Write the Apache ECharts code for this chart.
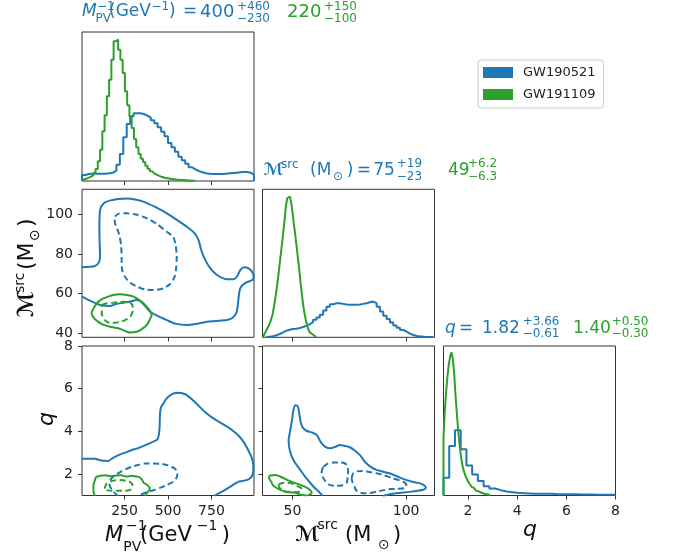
<!DOCTYPE html>
<html>
<head>
<meta charset="utf-8">
<script src="https://cdn.jsdelivr.net/npm/echarts@6/dist/echarts.min.js"></script>
<style>
  html, body { margin: 0; background: #fff; }
  #main { width: 680px; height: 552px; }
</style>
</head>
<body>
<div id="main"></div>
<script>
const FONT = 'DejaVu Sans'
const BLUE = '#1f77b4'
const GREEN = '#2ca02c'

// axis ranges
const mpvRange = [5, 995]
const mcRangeX = [36.8, 112.5]
const mcRangeY = [38, 112.6]
const qRange = [1, 8]
const histMax = 447

// tick values
const mpvTicks = [250, 500, 750]
const mcTicksX = [50, 100]
const mcTicksY = [40, 60, 80, 100]
const qTicks = [2, 4, 6, 8]

// 1D histograms (bin start, bin width, counts in arbitrary units)
const mpvBlueStart = 5, mpvBlueWidth = 19.8
const mpvBlueCounts = [18, 21, 22, 22, 22, 22, 22, 23, 25, 31, 49, 81, 131, 171, 194, 203, 203, 201, 196, 190,
  182, 173, 161, 148, 134, 114, 101, 88, 73, 62, 52, 41, 35, 30, 26, 23, 22, 21, 21, 21,
  21, 22, 23, 24, 25, 26, 27, 27, 25, 19]
const mpvGreenStart = 5, mpvGreenWidth = 13
const mpvGreenCounts = [5, 7, 10, 13, 17, 24, 36, 59, 94, 149, 197, 254, 304, 364, 419, 424, 394, 364, 324, 269,
  227, 194, 159, 126, 101, 81, 67, 57, 46, 37, 29, 23, 19, 16, 13, 11, 9, 8, 7, 6,
  5, 4, 4, 3, 3, 2, 2, 1, 1, 1]

const mcBlueStart = 38.5, mcBlueWidth = 1.47
const mcBlueCounts = [2, 3, 6, 10, 15, 20, 23, 25, 26, 28, 31, 35, 40, 46, 53, 60, 68, 81, 92, 100,
  103, 103, 101, 99, 98, 98, 98, 99, 101, 103, 106, 108, 103, 92, 78, 65, 55, 45, 36, 29,
  22, 17, 11, 7, 4, 3, 2, 1, 1, 1]
const mcGreenStart = 37.1, mcGreenWidth = 0.586
const mcGreenCounts = [5, 11, 18, 26, 34, 43, 55, 68, 90, 115, 143, 173, 208, 243, 278, 313, 350, 393, 420, 425,
  422, 408, 378, 343, 313, 278, 243, 208, 168, 133, 98, 73, 53, 36, 23, 15, 9, 5, 3, 1]

const qBlueStart = 1, qBlueWidth = 7 / 30
const qBlueCounts = [53, 148, 195, 138, 90, 63, 43, 28, 21, 16, 12, 10, 8, 7, 6, 5, 5, 5, 5, 4,
  4, 4, 4, 3, 3, 3, 2, 2, 2, 2]
const qGreenStart = 1, qGreenWidth = 0.0545
const qGreenCounts = [175, 255, 312, 358, 393, 416, 428, 408, 363, 298, 243, 193, 153, 118, 93, 76, 63, 53, 45, 38,
  32, 26, 22, 18, 15, 13, 11, 9, 8, 6, 5, 4, 3, 2, 1]

// 2D contours (solid = outer level, dashed = inner level)
const mpvMcBlueOuter = [[5, 73.3], [80, 73.9], [103, 75.9], [109, 78.6], [106, 87.0], [105, 92.1], [109, 102.2], [132, 105.7],
  [166, 106.9], [213, 107.7], [263, 108.0], [311, 107.5], [358, 106.4], [426, 103.7], [493, 100.5], [553, 97.1],
  [609, 93.7], [651, 90.6], [676, 87.0], [691, 82.0], [714, 77.0], [743, 72.9], [782, 69.4], [830, 67.4],
  [877, 67.2], [899, 68.9], [916, 71.9], [939, 73.3], [964, 72.7], [985, 70.9], [993, 68.4], [985, 66.9],
  [945, 65.4], [916, 62.8], [907, 58.5], [902, 54.3], [893, 50.2], [870, 47.7], [839, 46.7], [772, 46.2],
  [724, 45.8], [657, 44.7], [609, 44.2], [541, 44.9], [493, 46.7], [443, 48.7], [397, 50.9], [368, 53.8],
  [339, 56.3], [320, 56.8], [282, 56.0], [243, 55.4], [201, 54.8], [166, 53.8], [109, 54.3], [63, 56.0], [5, 58.5]]
const mpvMcBlueInner = [[195, 98.8], [213, 100.2], [263, 100.5], [316, 99.9], [378, 98.0], [437, 95.1], [493, 91.2],
  [530, 88.6], [544, 84.5], [550, 78.6], [547, 72.9], [538, 68.5], [512, 64.9], [472, 62.6], [416, 61.8],
  [368, 62.1], [328, 63.3], [282, 65.5], [253, 68.4], [236, 71.9], [233, 78.0], [230, 84.5], [218, 90.1],
  [198, 94.6], [192, 97.6]]
const mpvMcGreenOuter = [[66, 51.7], [90, 55.1], [115, 57.0], [147, 58.2], [184, 59.3], [224, 59.7], [264, 59.3],
  [301, 58.5], [339, 56.5], [368, 54.3], [397, 51.2], [406, 49.2], [394, 46.7], [378, 44.2], [345, 41.9],
  [320, 40.8], [282, 40.4], [263, 40.8], [218, 42.4], [166, 43.3], [126, 44.4], [99, 45.8], [74, 47.7], [60, 50.1]]
const mpvMcGreenInner = [[119, 54.3], [143, 55.0], [185, 55.4], [224, 55.8], [263, 55.9], [288, 55.0], [297, 53.3],
  [297, 51.2], [282, 48.4], [253, 46.7], [224, 45.8], [190, 45.3], [166, 45.3], [138, 46.5], [123, 48.7], [119, 50.0]]

const mpvQBlueOuter = [[5, 2.72], [78, 2.72], [115, 2.64], [155, 2.62], [184, 2.76], [213, 2.88], [253, 3.01],
  [289, 3.12], [328, 3.22], [367, 3.35], [403, 3.48], [439, 3.63], [448, 3.88], [452, 4.28], [453, 4.62],
  [455, 4.90], [460, 5.14], [472, 5.29], [489, 5.51], [511, 5.68], [535, 5.79], [559, 5.81], [582, 5.79],
  [606, 5.71], [639, 5.49], [674, 5.22], [708, 4.95], [751, 4.67], [789, 4.47], [828, 4.28], [864, 4.09],
  [904, 3.82], [936, 3.50], [962, 3.12], [982, 2.76], [991, 2.42], [991, 2.15], [985, 1.95], [971, 1.80],
  [952, 1.72], [928, 1.68], [904, 1.64], [879, 1.52], [857, 1.40], [824, 1.24], [789, 1.09], [766, 0.98]]
const mpvQBlueInner = [[213, 0.98], [184, 1.19], [169, 1.38], [163, 1.54], [166, 1.71], [190, 1.92], [232, 2.13],
  [289, 2.34], [328, 2.43], [367, 2.50], [414, 2.50], [462, 2.48], [501, 2.41], [539, 2.26], [554, 2.06],
  [550, 1.85], [530, 1.64], [495, 1.50], [462, 1.38], [420, 1.26], [376, 1.15], [339, 1.03], [328, 0.98]]
const mpvQGreenOuter = [[80, 0.98], [74, 1.09], [71, 1.26], [71, 1.48], [80, 1.73], [87, 1.87], [109, 1.92],
  [136, 1.95], [174, 1.90], [201, 1.94], [232, 1.95], [259, 1.89], [289, 1.92], [316, 1.89], [337, 1.85],
  [351, 1.73], [360, 1.59], [380, 1.50], [395, 1.32], [386, 1.19], [376, 1.08], [371, 0.98]]
const mpvQGreenInner = [[136, 1.32], [145, 1.54], [174, 1.67], [201, 1.71], [232, 1.72], [259, 1.69], [280, 1.64],
  [295, 1.50], [293, 1.38], [280, 1.25], [247, 1.22], [213, 1.22], [178, 1.22], [149, 1.25]]

const mcQBlueOuter = [[63.3, 0.98], [61.2, 1.22], [59.2, 1.42], [56.0, 1.82], [53.4, 2.20], [51.2, 2.52], [49.7, 2.82],
  [48.6, 3.22], [48.3, 3.60], [48.8, 3.92], [49.3, 4.22], [49.9, 4.62], [50.4, 5.00], [51.2, 5.23], [52.1, 5.21],
  [52.6, 5.08], [53.1, 4.76], [53.7, 4.38], [54.7, 4.16], [56.4, 4.02], [58.6, 3.95], [60.7, 3.83], [61.9, 3.60],
  [62.9, 3.44], [64.3, 3.29], [66.5, 3.21], [68.7, 3.27], [70.8, 3.36], [73.0, 3.32], [75.2, 3.26], [77.4, 3.11],
  [79.6, 2.90], [81.3, 2.66], [82.5, 2.51], [84.4, 2.34], [86.9, 2.20], [89.6, 2.12], [92.7, 2.04], [96.2, 1.89],
  [100.0, 1.73], [102.8, 1.64], [105.8, 1.58], [107.6, 1.50], [108.7, 1.39], [108.0, 1.29], [105.8, 1.23],
  [101.4, 1.17], [95.6, 1.11], [92.3, 1.05], [89.8, 0.98]]
const mcQBlueInnerA = [[63.6, 2.35], [65.6, 2.50], [67.9, 2.54], [70.8, 2.55], [73.0, 2.51], [74.1, 2.38], [74.5, 2.12],
  [74.3, 1.87], [73.8, 1.58], [71.7, 1.47], [69.0, 1.45], [66.3, 1.50], [64.6, 1.65], [63.3, 1.87], [62.8, 2.04], [63.1, 2.24]]
const mcQBlueInnerB = [[76.0, 1.80], [76.7, 2.04], [78.3, 2.13], [81.0, 2.15], [84.0, 2.10], [86.9, 2.04], [90.5, 1.94],
  [94.1, 1.81], [97.1, 1.71], [99.7, 1.58], [100.1, 1.45], [99.3, 1.34], [96.2, 1.31], [92.7, 1.30], [89.6, 1.24],
  [86.9, 1.18], [84.0, 1.12], [82.5, 1.11], [80.5, 1.12], [78.8, 1.18], [77.6, 1.31], [77.4, 1.42], [76.5, 1.59]]
const mcQGreenOuter = [[39.6, 1.89], [40.3, 1.94], [42.4, 1.96], [44.6, 1.89], [47.6, 1.73], [50.3, 1.61], [53.4, 1.50],
  [56.0, 1.38], [57.7, 1.26], [58.5, 1.12], [57.3, 1.03], [56.3, 1.0], [53.4, 1.05], [51.9, 1.11], [49.0, 1.15],
  [46.8, 1.18], [44.6, 1.26], [43.2, 1.34], [41.5, 1.47], [40.6, 1.65], [39.8, 1.78]]
const mcQGreenInner = [[43.9, 1.52], [45.5, 1.59], [47.6, 1.60], [49.4, 1.57], [51.9, 1.45], [53.4, 1.38], [54.1, 1.30],
  [53.4, 1.19], [51.6, 1.16], [49.0, 1.17], [47.6, 1.18], [45.5, 1.26], [44.2, 1.36]]

// panel layout: col left edges, row top edges
const colX = [82, 262.5, 443.5]
const rowY = [32, 189.3, 346]
const panelW = 172
const panelH = [149, 148, 149.5]

function stepPoints (start, width, counts) {
  const pts = [[start, 0]]
  counts.forEach((c, i) => {
    pts.push([start + i * width, c])
    pts.push([start + (i + 1) * width, c])
  })
  pts.push([start + counts.length * width, 0])
  return pts
}

function closed (pts) {
  return pts.concat([pts[0]])
}

function grid (col, row) {
  return {
    left: colX[col], top: rowY[row], width: panelW, height: panelH[row],
    show: true, borderColor: '#333', borderWidth: 1, backgroundColor: 'rgba(0,0,0,0)'
  }
}

function axis (gi, range, ticks, labels, hidden) {
  return {
    type: 'value', gridIndex: gi, min: range[0], max: range[1], show: !hidden,
    axisLine: { show: false },
    splitLine: { show: false },
    axisTick: ticks ? { show: true, customValues: ticks, length: 4, lineStyle: { color: '#333', width: 1 } } : { show: false },
    axisLabel: { show: !!labels, customValues: ticks || [], fontSize: 14, color: '#222', fontFamily: FONT, margin: 9 }
  }
}

function line (name, color, data, gi, dashed, smooth) {
  return {
    type: 'line', name: name, xAxisIndex: gi, yAxisIndex: gi, data: data,
    showSymbol: false, symbol: 'none', smooth: smooth ? 0.25 : false, animation: false,
    color: color, itemStyle: { color: color },
    lineStyle: { color: color, width: 2, type: dashed ? [6, 3.5] : 'solid' },
    z: 3
  }
}

function piece (x, y, t, size, color, italic, bold) {
  return {
    type: 'text', x: x, y: y,
    style: {
      text: t, fontSize: size, fontFamily: FONT, fontStyle: italic ? 'italic' : 'normal',
      fontWeight: bold ? 'bold' : 'normal',
      fill: color, align: 'left', verticalAlign: 'middle', textAlign: 'left', textVerticalAlign: 'middle'
    }
  }
}

const titles = [
  // M_PV^-1 title
  piece(82, 12, 'M', 17, BLUE, true),
  piece(97, 6.5, '−1', 12, BLUE),
  piece(95.5, 18.5, 'PV', 12, BLUE),
  piece(109, 12, '(GeV', 17, BLUE),
  piece(151.5, 6.5, '−1', 12, BLUE),
  piece(169, 12, ')', 17, BLUE),
  piece(183, 12, '=', 17, BLUE),
  piece(200, 12, '400', 18, BLUE),
  piece(237, 6.5, '+460', 12, BLUE),
  piece(237, 19, '−230', 12, BLUE),
  piece(287, 12, '220', 18, GREEN),
  piece(324, 6.5, '+150', 12, GREEN),
  piece(324, 19, '−100', 12, GREEN),
  // chirp mass title
  piece(263.3, 171, 'ℳ', 17, BLUE, false, true),
  piece(281, 164.5, 'src', 12, BLUE),
  piece(310, 171, '(M', 17, BLUE),
  piece(333, 177, '⊙', 12, BLUE),
  piece(346.7, 171, ')', 17, BLUE),
  piece(356.7, 171, '=', 17, BLUE),
  piece(373.3, 171, '75', 17, BLUE),
  piece(396.7, 164, '+19', 12, BLUE),
  piece(396.7, 176.5, '−23', 12, BLUE),
  piece(448, 171, '49', 17, GREEN),
  piece(468, 164, '+6.2', 12, GREEN),
  piece(468, 176.5, '−6.3', 12, GREEN),
  // q title
  piece(445, 329, 'q', 17, BLUE, true),
  piece(459, 329, '=', 17, BLUE),
  piece(482, 329, '1.82', 17, BLUE),
  piece(522.7, 322, '+3.66', 12, BLUE),
  piece(522.7, 333.5, '−0.61', 12, BLUE),
  piece(573, 329, '1.40', 17, GREEN),
  piece(611.7, 322, '+0.50', 12, GREEN),
  piece(611.7, 333.5, '−0.30', 12, GREEN)
]

const INK = '#111'
const axisNames = [
  piece(105, 535.5, 'M', 21, INK, true),
  piece(126, 526.5, '−1', 14, INK),
  piece(123.3, 547.5, 'PV', 14, INK),
  piece(140, 535.5, '(GeV', 21, INK),
  piece(196.7, 526.5, '−1', 14, INK),
  piece(221.7, 535.5, ')', 21, INK),
  piece(295, 535.5, 'ℳ', 21, INK, false, true),
  piece(317.5, 525.5, 'src', 14, INK),
  piece(345, 535.5, '(M', 21, INK),
  piece(378, 545, '⊙', 14, INK),
  piece(393, 535.5, ')', 21, INK),
  piece(523, 530, 'q', 22, INK, true),
  {
    type: 'group', x: 27.5, y: 317, rotation: Math.PI / 2,
    children: [
      piece(0, 0, 'ℳ', 22, INK, false, true),
      piece(24, -7.5, 'src', 14, INK),
      piece(47, 0, '(M', 22, INK),
      piece(76, 7.5, '⊙', 14, INK),
      piece(90, 0, ')', 22, INK)
    ]
  },
  {
    type: 'group', x: 47.5, y: 426, rotation: Math.PI / 2,
    children: [piece(0, 0, 'q', 22, INK, true)]
  }
]

const chart = echarts.init(document.getElementById('main'), null, { renderer: 'canvas' })

const option = {
  backgroundColor: '#fff',
  animation: false,
  textStyle: { fontFamily: FONT },
  legend: {
    orient: 'vertical', left: 478, top: 60,
    icon: 'rect', itemWidth: 30, itemHeight: 11, itemGap: 9,
    padding: [6, 8, 7, 5],
    borderColor: '#ccc', borderWidth: 1, borderRadius: 3, backgroundColor: '#fff',
    textStyle: { fontSize: 13, fontFamily: FONT, color: '#222', padding: [0, 0, 0, 5] },
    data: ['GW190521', 'GW191109']
  },
  grid: [grid(0, 0), grid(0, 1), grid(1, 1), grid(0, 2), grid(1, 2), grid(2, 2)],
  xAxis: [
    axis(0, mpvRange, mpvTicks, false),
    axis(1, mpvRange, mpvTicks, false),
    axis(2, mcRangeX, mcTicksX, false),
    axis(3, mpvRange, mpvTicks, true),
    axis(4, mcRangeX, mcTicksX, true),
    axis(5, qRange, qTicks, true)
  ],
  yAxis: [
    axis(0, [0, histMax], null, false, true),
    axis(1, mcRangeY, mcTicksY, true),
    axis(2, [0, histMax], null, false, true),
    axis(3, qRange, qTicks, true),
    axis(4, qRange, qTicks, false),
    axis(5, [0, histMax], null, false, true)
  ],
  series: [
    line('GW190521', BLUE, stepPoints(mpvBlueStart, mpvBlueWidth, mpvBlueCounts), 0),
    line('GW191109', GREEN, stepPoints(mpvGreenStart, mpvGreenWidth, mpvGreenCounts), 0),
    line('GW190521', BLUE, mpvMcBlueOuter, 1, false, true),
    line('GW190521', BLUE, closed(mpvMcBlueInner), 1, true, true),
    line('GW191109', GREEN, closed(mpvMcGreenOuter), 1, false, true),
    line('GW191109', GREEN, closed(mpvMcGreenInner), 1, true, true),
    line('GW190521', BLUE, stepPoints(mcBlueStart, mcBlueWidth, mcBlueCounts), 2),
    line('GW191109', GREEN, stepPoints(mcGreenStart, mcGreenWidth, mcGreenCounts), 2),
    line('GW190521', BLUE, mpvQBlueOuter, 3, false, true),
    line('GW190521', BLUE, mpvQBlueInner, 3, true, true),
    line('GW191109', GREEN, mpvQGreenOuter, 3, false, true),
    line('GW191109', GREEN, closed(mpvQGreenInner), 3, true, true),
    line('GW190521', BLUE, mcQBlueOuter, 4, false, true),
    line('GW190521', BLUE, closed(mcQBlueInnerA), 4, true, true),
    line('GW190521', BLUE, closed(mcQBlueInnerB), 4, true, true),
    line('GW191109', GREEN, closed(mcQGreenOuter), 4, false, true),
    line('GW191109', GREEN, closed(mcQGreenInner), 4, true, true),
    line('GW190521', BLUE, stepPoints(qBlueStart, qBlueWidth, qBlueCounts), 5),
    line('GW191109', GREEN, stepPoints(qGreenStart, qGreenWidth, qGreenCounts), 5)
  ],
  graphic: titles.concat(axisNames)
}

chart.setOption(option)
</script>
</body>
</html>
